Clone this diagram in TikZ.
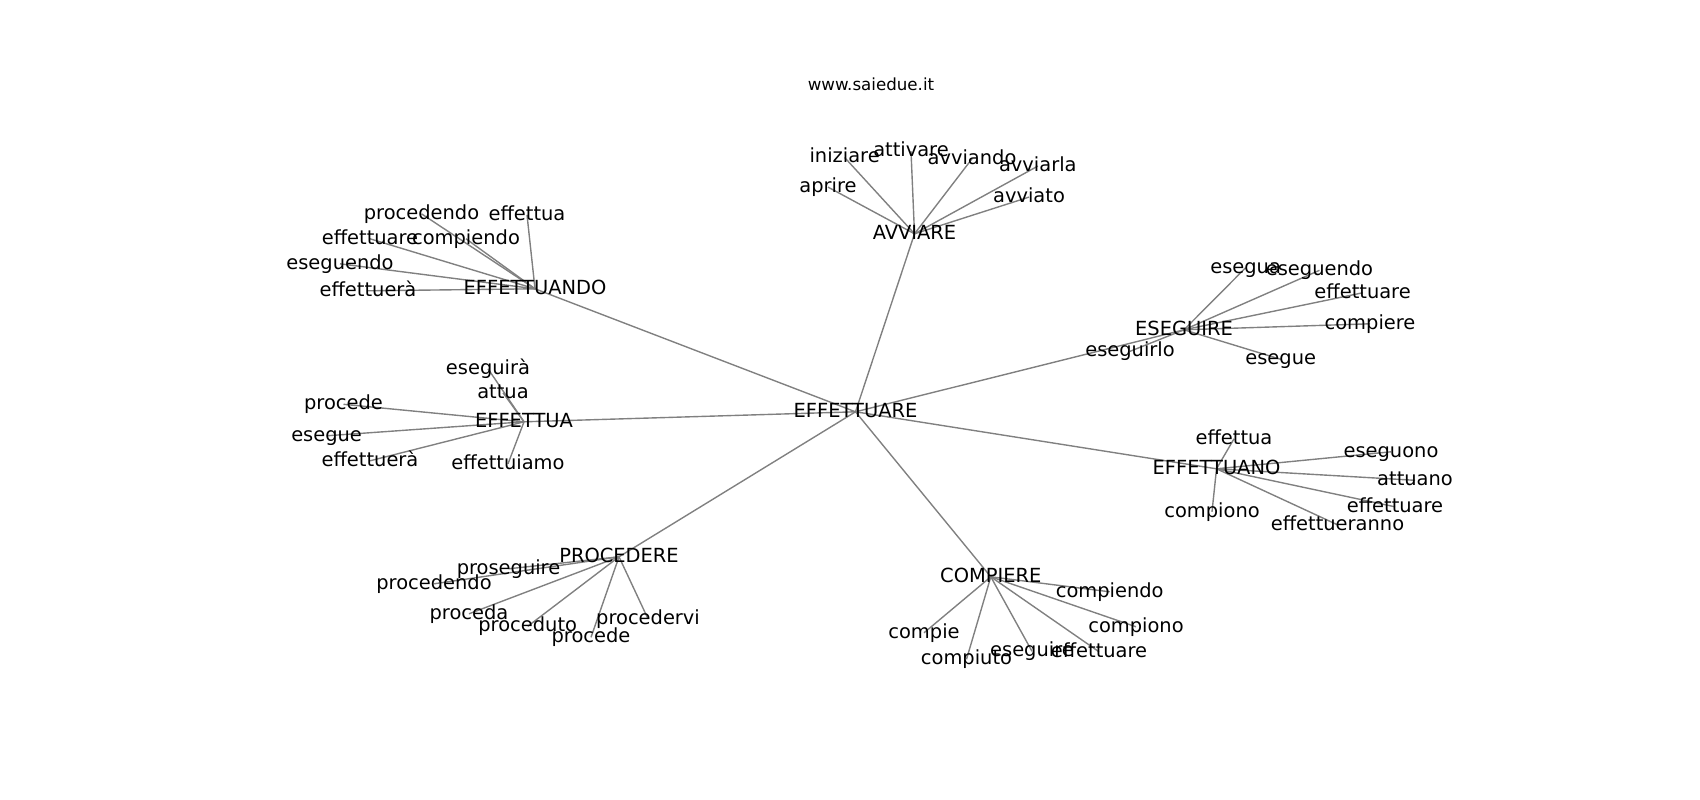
\documentclass[tikz,border=0pt]{standalone}
\usepackage{fontspec}
\setmainfont{DejaVu Sans}
\usetikzlibrary{backgrounds}
\tikzset{
  lbl/.style={inner sep=0pt, outer sep=0pt, text height=14.77pt, text depth=4.04pt,
    font=\fontsize{19.44pt}{23pt}\selectfont, text=black},
  ttl/.style={inner sep=0pt, font=\fontsize{16.67pt}{20pt}\selectfont, text=black},
  edge/.style={draw=black!50, line width=1.39pt}
}
\begin{document}
\begin{tikzpicture}[x=1pt,y=-1pt]
\useasboundingbox (0,0) rectangle (1700,800);
\begin{scope}[shift={(0,1.8)}]
\node[ttl] (title) at (871,82) {www.saiedue.it};
% hub
\node[lbl] (H) at (855.5,410) {EFFETTUARE};
% AVVIARE
\node[lbl] (A) at (914.5,232) {AVVIARE};
\node[lbl] (A1) at (844.6,155.7) {iniziare};
\node[lbl] (A2) at (911,149.3) {attivare};
\node[lbl] (A3) at (972,157) {avviando};
\node[lbl] (A4) at (1037.8,164.3) {avviarla};
\node[lbl] (A5) at (828,185.3) {aprire};
\node[lbl] (A6) at (1029,195.3) {avviato};
% EFFETTUANDO
\node[lbl] (B) at (535,287) {EFFETTUANDO};
\node[lbl] (B1) at (421.5,212) {procedendo};
\node[lbl] (B2) at (527,213) {effettua};
\node[lbl] (B3) at (370,237) {effettuare};
\node[lbl] (B4) at (466,237) {compiendo};
\node[lbl] (B5) at (340,262) {eseguendo};
\node[lbl] (B6) at (368,289) {effettuerà};
% EFFETTUA
\node[lbl] (C) at (524,420) {EFFETTUA};
\node[lbl] (C1) at (488,367) {eseguirà};
\node[lbl] (C2) at (503,391) {attua};
\node[lbl] (C3) at (343.5,402.5) {procede};
\node[lbl] (C4) at (326.6,434) {esegue};
\node[lbl] (C5) at (370,459) {effettuerà};
\node[lbl] (C6) at (508,462) {effettuiamo};
% ESEGUIRE
\node[lbl] (D) at (1184,328) {ESEGUIRE};
\node[lbl] (D1) at (1130,349.5) {eseguirlo};
\node[lbl] (D2) at (1245.6,266) {esegua};
\node[lbl] (D3) at (1319.5,268.5) {eseguendo};
\node[lbl] (D4) at (1362.6,291) {effettuare};
\node[lbl] (D5) at (1370,322) {compiere};
\node[lbl] (D6) at (1280.7,357.5) {esegue};
% EFFETTUANO
\node[lbl] (F) at (1216.5,467) {EFFETTUANO};
\node[lbl] (F1) at (1234,437) {effettua};
\node[lbl] (F2) at (1391,450) {eseguono};
\node[lbl] (F3) at (1415,478.5) {attuano};
\node[lbl] (F4) at (1395,505) {effettuare};
\node[lbl] (F5) at (1337.5,523) {effettueranno};
\node[lbl] (F6) at (1212,510) {compiono};
% PROCEDERE
\node[lbl] (P) at (619,555) {PROCEDERE};
\node[lbl] (P1) at (508.5,567) {proseguire};
\node[lbl] (P2) at (434,582) {procedendo};
\node[lbl] (P3) at (469,612) {proceda};
\node[lbl] (P4) at (527.7,624.5) {proceduto};
\node[lbl] (P5) at (591,635.5) {procede};
\node[lbl] (P6) at (648,617) {procedervi};
% COMPIERE
\node[lbl] (M) at (990.8,575) {COMPIERE};
\node[lbl] (M1) at (1109.7,590) {compiendo};
\node[lbl] (M2) at (1136,625) {compiono};
\node[lbl] (M3) at (924,631) {compie};
\node[lbl] (M4) at (966.5,657.5) {compiuto};
\node[lbl] (M5) at (1032,649.5) {eseguire};
\node[lbl] (M6) at (1099,650) {effettuare};
\begin{scope}[on background layer]
  \foreach \h in {A,B,C,D,F,P,M}{
    \draw[edge] (H.center) -- (\h.center);
    \foreach \i in {1,...,6}{
      \draw[edge] (\h.center) -- (\h\i.center);
    }
  }
\end{scope}
\end{scope}
\end{tikzpicture}
\end{document}
